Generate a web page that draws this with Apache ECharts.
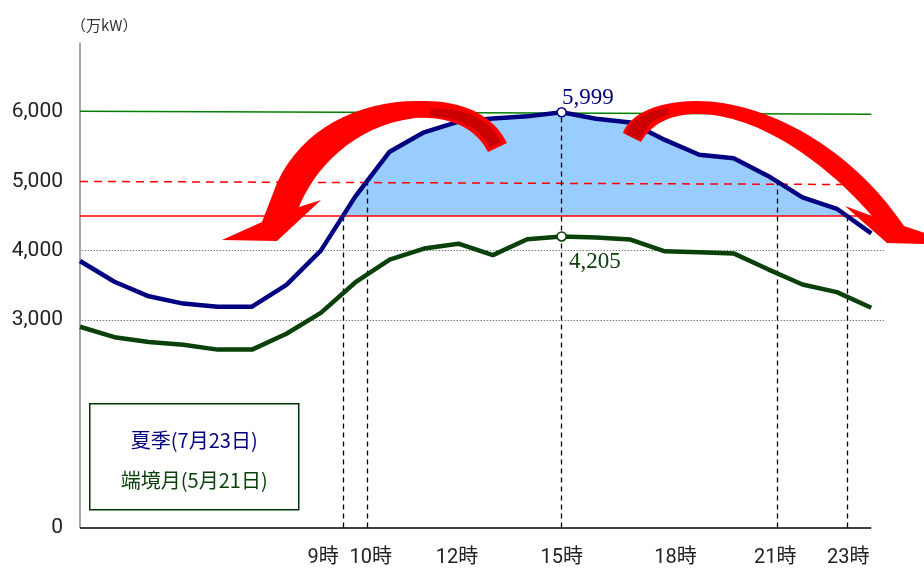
<!DOCTYPE html>
<html>
<head>
<meta charset="utf-8">
<title>夏季と端境月の需要</title>
<script src="https://cdn.jsdelivr.net/npm/echarts@6/dist/echarts.min.js"></script>
<style>
html, body { margin: 0; padding: 0; background: #fff; }
#chart { width: 924px; height: 570px; }
</style>
</head>
<body>
<div id="chart"></div>
<script>
// 時刻 (1〜24時)
const hours = [1, 2, 3, 4, 5, 6, 7, 8, 9, 10, 11, 12, 13, 14, 15, 16, 17, 18, 19, 20, 21, 22, 23, 24]
// 夏季(7月23日) 万kW
const summer = [3850, 3550, 3340, 3235, 3190, 3190, 3505, 4000, 4780, 5430, 5710, 5865,
  5910, 5940, 5999, 5905, 5850, 5600, 5385, 5335, 5080, 4770, 4605, 4250]
// 端境月(5月21日) 万kW
const offPeak = [2900, 2750, 2680, 2640, 2570, 2570, 2800, 3100, 3540, 3870, 4030, 4100,
  3935, 4165, 4205, 4190, 4160, 3990, 3975, 3960, 3730, 3510, 3400, 3175]
const summerName = '夏季(7月23日)'
const offPeakName = '端境月(5月21日)'

// 目盛ラベル
const yLabelValues = [0, 3000, 4000, 5000, 6000]
const xLabelPos = [8.07, 9.45, 11.96, 15, 18.31, 21.21, 23.33]
const xLabelText = ['9時', '10時', '12時', '15時', '18時', '21時', '23時']

// 基準線
const upperLevel = [6015, 5970]
const dashLevel = [5000, 4955]
const baseLevel = 4500
const dottedLevels = [3000, 4000]

const numFont = 'Roboto, "Noto Sans CJK JP", sans-serif'
const jpFont = '"Noto Sans CJK JP", sans-serif'

const fmt = v => v.toLocaleString('en-US')

// 夏季カーブが level を横切る時刻
function crossing (level, from, to) {
  for (let i = from; i < to; i++) {
    const a = summer[i]
    const b = summer[i + 1]
    if ((a - level) * (b - level) <= 0 && a !== b) return hours[i] + (level - a) / (b - a)
  }
  return null
}

const peakIdx = summer.indexOf(Math.max(...summer))
const peakHour = hours[peakIdx]
const vLines = [
  [crossing(baseLevel, 0, peakIdx), baseLevel],
  [crossing(dashLevel[0], 0, peakIdx), dashLevel[0]],
  [peakHour, summer[peakIdx]],
  [crossing(dashLevel[0], peakIdx, hours.length - 1), dashLevel[0]],
  [crossing(baseLevel, peakIdx, hours.length - 1), baseLevel]
]

const pairs = arr => hours.map((h, i) => [h, arr[i]])
const dash = { color: '#000', width: 1.3, type: [5, 4] }

const guideLines = [
  [{ coord: [1, 0], lineStyle: { color: '#000', width: 1.5, type: 'solid' } }, { coord: [24, 0] }],
  [{ coord: [1, upperLevel[0]], lineStyle: { color: '#008000', width: 1.5, type: 'solid' } }, { coord: [24, upperLevel[1]] }],
  [{ coord: [1, dashLevel[0]], lineStyle: { color: '#ff0000', width: 1.5, type: [8, 6] } }, { coord: [23.5, dashLevel[1]] }],
  [{ coord: [1, baseLevel], lineStyle: { color: '#ff0000', width: 1.5, type: 'solid' } }, { coord: [24, baseLevel] }]
]
dottedLevels.forEach(v => {
  guideLines.push([{ coord: [1.05, v], lineStyle: { color: '#444', width: 1, type: [1, 2] } }, { coord: [24.37, v] }])
})
vLines.forEach(p => {
  guideLines.push([{ coord: [p[0], 0], lineStyle: dash }, { coord: [p[0], p[1]] }])
})

// 塗りは基準線より上だけ (面の外接矩形に対する割合)
const sMax = Math.max(...summer)
const sMin = Math.min(...summer)
const cut = (sMax - baseLevel) / (sMax - sMin)
const areaFill = new echarts.graphic.LinearGradient(0, 0, 0, 1, [
  { offset: 0, color: '#99ccff' },
  { offset: cut, color: '#99ccff' },
  { offset: cut, color: 'rgba(153,204,255,0)' },
  { offset: 1, color: 'rgba(153,204,255,0)' }
])

// 赤い矢印 (装飾)
const arrowPaths = [
  { d: 'M507,143 C492,112 458,100 420,101 C360,100 302,128 277,183 L262,222 L222,240 L277,241 L321,200 L299,207 C314,170 352,126 415,118 C450,116 476,128 488,152 Z', fill: '#ff0000' },
  { d: 'M430,109 C460,106 490,118 501,142 L490,148 C480,128 460,118 430,116 Z', fill: '#cc0000' },
  { d: 'M623,133 C628,118 650,102 695,101 C765,100 852,148 904,226 L960,245 L887,243 L845,206 L872,216 C840,178 770,116 700,114 C675,113 652,122 641,142 Z', fill: '#ff0000' },
  { d: 'M626,134 C630,120 645,111 668,108 L668,115 C652,118 645,128 640,141 Z', fill: '#cc0000' }
]

const dom = echarts.init(document.getElementById('chart'))
const option = {
  animation: false,
  backgroundColor: '#fff',
  grid: { left: 80, right: 40, top: 43, bottom: 42.5 },
  xAxis: {
    type: 'value',
    min: 1,
    max: 24.37,
    axisLine: { show: false },
    axisTick: { show: false },
    splitLine: { show: false },
    axisLabel: {
      customValues: xLabelPos,
      formatter: v => xLabelText[xLabelPos.indexOf(v)],
      margin: 20,
      fontSize: 20,
      color: '#222',
      fontFamily: numFont
    }
  },
  yAxis: {
    type: 'value',
    min: 0,
    max: 7000,
    interval: 1000,
    name: '（万kW）',
    nameLocation: 'end',
    nameGap: 10,
    nameTextStyle: { align: 'left', fontSize: 15, color: '#333', fontFamily: jpFont, padding: [0, 0, 0, -9] },
    axisLine: { show: true, lineStyle: { color: '#888', width: 1.5 } },
    axisTick: { show: false },
    splitLine: { show: false },
    axisLabel: {
      customValues: yLabelValues,
      formatter: v => fmt(v),
      margin: 17,
      fontSize: 21,
      color: '#222',
      fontFamily: numFont
    }
  },
  series: [
    {
      // 基準線を超える部分の塗り
      type: 'line',
      data: pairs(summer),
      showSymbol: false,
      silent: true,
      z: 1,
      lineStyle: { width: 0, opacity: 0 },
      areaStyle: { origin: baseLevel, opacity: 1, color: areaFill },
      markLine: {
        silent: true,
        symbol: ['none', 'none'],
        label: { show: false },
        animation: false,
        data: guideLines
      }
    },
    {
      name: summerName,
      type: 'line',
      data: pairs(summer),
      showSymbol: false,
      silent: true,
      z: 6,
      lineStyle: { color: '#000080', width: 4.5 }
    },
    {
      name: offPeakName,
      type: 'line',
      data: pairs(offPeak),
      showSymbol: false,
      silent: true,
      z: 6,
      lineStyle: { color: '#0a400a', width: 4.5 }
    },
    {
      type: 'scatter',
      z: 7,
      silent: true,
      symbolSize: 9,
      itemStyle: { opacity: 1 },
      data: [
        {
          value: [peakHour, summer[peakIdx]],
          itemStyle: { color: '#fff', borderColor: '#000080', borderWidth: 1.5, opacity: 1 },
          label: { position: [5.5, -9.5], color: '#000080' }
        },
        {
          value: [peakHour, offPeak[peakIdx]],
          itemStyle: { color: '#fff', borderColor: '#0a400a', borderWidth: 1.5, opacity: 1 },
          label: { position: [12.5, 31], color: '#0a400a' }
        }
      ],
      label: {
        show: true,
        formatter: p => fmt(p.value[1]),
        fontFamily: '"Liberation Serif", "Times New Roman", serif',
        fontSize: 23,
        align: 'left',
        verticalAlign: 'middle'
      }
    },
    {
      type: 'custom',
      coordinateSystem: 'none',
      silent: true,
      z: 100,
      data: [[0]],
      renderItem: () => ({
        type: 'group',
        children: arrowPaths.map(a => ({
          type: 'path',
          shape: { pathData: a.d },
          style: { fill: a.fill }
        }))
      })
    }
  ],
  graphic: [
    {
      type: 'group',
      left: 89,
      top: 403,
      z: 100,
      children: [
        { type: 'rect', shape: { x: 0.5, y: 0.5, width: 209, height: 106 }, style: { fill: '#fff', stroke: '#003300', lineWidth: 1.5 } },
        { type: 'text', x: 105, y: 37, style: { text: summerName, fill: '#000080', font: '20px ' + jpFont, textAlign: 'center', textVerticalAlign: 'middle' } },
        { type: 'text', x: 105, y: 77, style: { text: offPeakName, fill: '#0a400a', font: '20px ' + jpFont, textAlign: 'center', textVerticalAlign: 'middle' } }
      ]
    }
  ]
}
dom.setOption(option)
</script>
</body>
</html>
